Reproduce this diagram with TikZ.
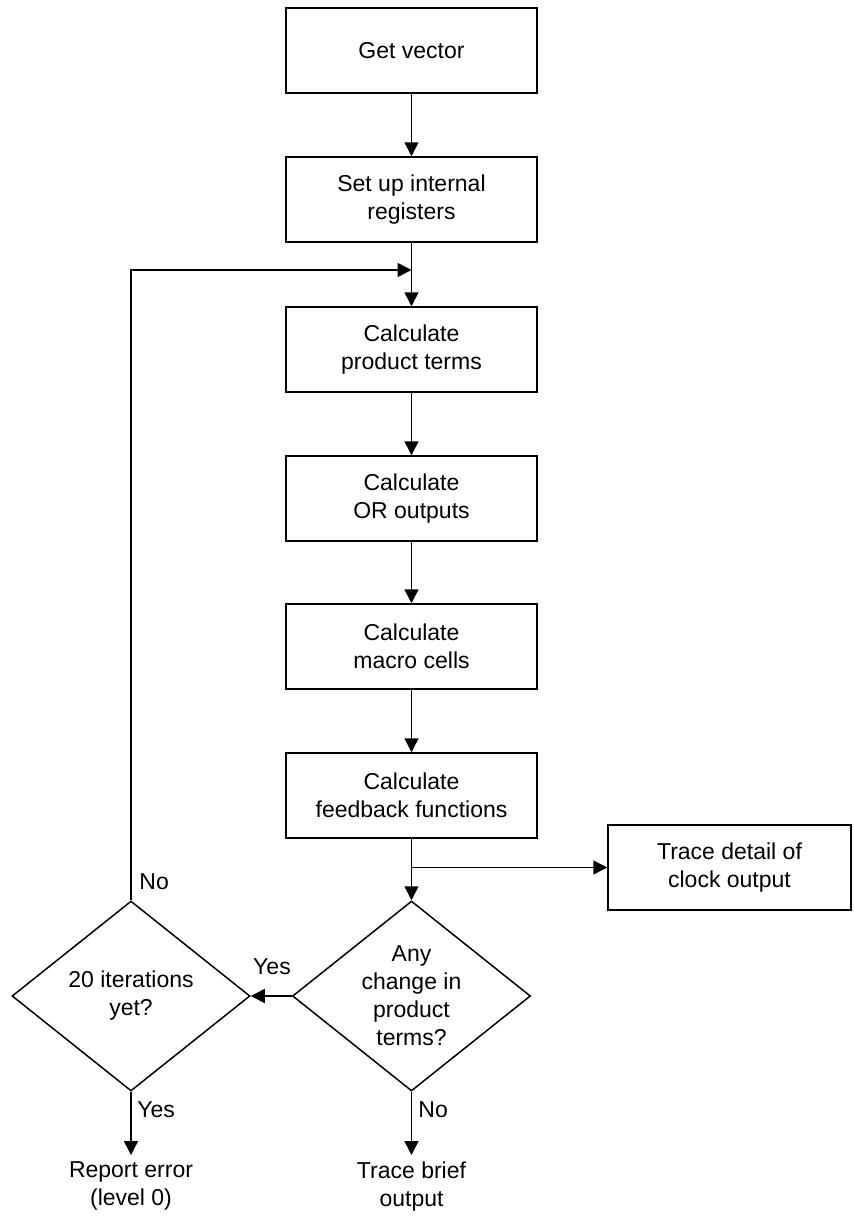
\documentclass[tikz,border=0pt]{standalone}
\usepackage{fontspec}
\setmainfont{Liberation Sans}
\usepackage{tikz}
\usetikzlibrary{positioning,arrows.meta,shapes.geometric}

\begin{document}
\begin{tikzpicture}[
  x=0.5pt, y=-0.5pt,
  font=\fontsize{11.5}{14}\selectfont,
  >={Triangle[length=7pt,width=7pt]},
  box/.style      ={rectangle, draw, line width=0.75pt, align=center,
                    minimum width=125.5pt, minimum height=42.5pt, inner sep=0pt},
  tracebox/.style ={box, minimum width=121.5pt},
  decision/.style ={diamond, draw, line width=0.75pt, align=center, aspect=1.25,
                    minimum width=119pt, minimum height=95pt, inner sep=0pt},
  endtext/.style  ={align=center, inner sep=0pt, anchor=north},
  lbl/.style      ={inner sep=0pt},
  arr/.style      ={->, line width=0.75pt},
]

\def\cL{131}
\def\cM{411.5}
\def\cT{729.5}

\useasboundingbox (0,0) rectangle (853,1216);

% ---------- MAIN COLUMN ----------
\node[box] (getvec)   at (\cM,50.5)  {Get vector};
\node[box] (setup)    at (\cM,199.5) {Set up internal\\registers};
\node[box] (prodterm) at (\cM,349.5) {Calculate\\product terms};
\node[box] (oroutput) at (\cM,498.5) {Calculate\\OR outputs};
\node[box] (macro)    at (\cM,646.5) {Calculate\\macro cells};
\node[box] (feedback) at (\cM,795.5) {Calculate\\feedback functions};

\node[tracebox] (tracedetail) at (\cT,867.5) {Trace detail of\\clock output};

% ---------- DECISIONS ----------
\node[decision] (change) at (\cM,996) {Any\\change in\\product\\terms?};
\node[decision] (iter)   at (\cL,996) {20 iterations\\yet?};

% ---------- END POINTS ----------
\node[endtext] (report) at (\cL,1161)  {Report error\\(level 0)};
\node[endtext] (brief)  at (\cM,1161)  {Trace brief\\output};

\coordinate (merge) at (\cM,270);
\coordinate (split) at (\cM,867.5);

% ---------- ARROWS ----------
\draw[arr] (getvec)   -- (setup);
\draw[arr] (setup)    -- (prodterm);
\draw[arr] (prodterm) -- (oroutput);
\draw[arr] (oroutput) -- (macro);
\draw[arr] (macro)    -- (feedback);
\draw[line width=0.75pt] (feedback) -- (split);
\draw[arr] (split) -- (change);
\draw[arr] (split) -- (tracedetail);
\draw[arr] (change.west) -- (iter.east);
\draw[arr] (iter.north) |- (merge);
\draw[arr] (iter.south) -- ([yshift=3pt]report.north);
\draw[arr] (change.south) -- ([yshift=3pt]brief.north);

% ---------- labels ----------
\node[lbl, anchor=west] (nolbl)     at (139,882)  {No};
\node[lbl]              (yeslbl)    at (272,967)  {Yes};
\node[lbl, anchor=west] (yesdown)   at (137,1110) {Yes};
\node[lbl, anchor=west] (nodown)    at (418,1110) {No};

\end{tikzpicture}
\end{document}
